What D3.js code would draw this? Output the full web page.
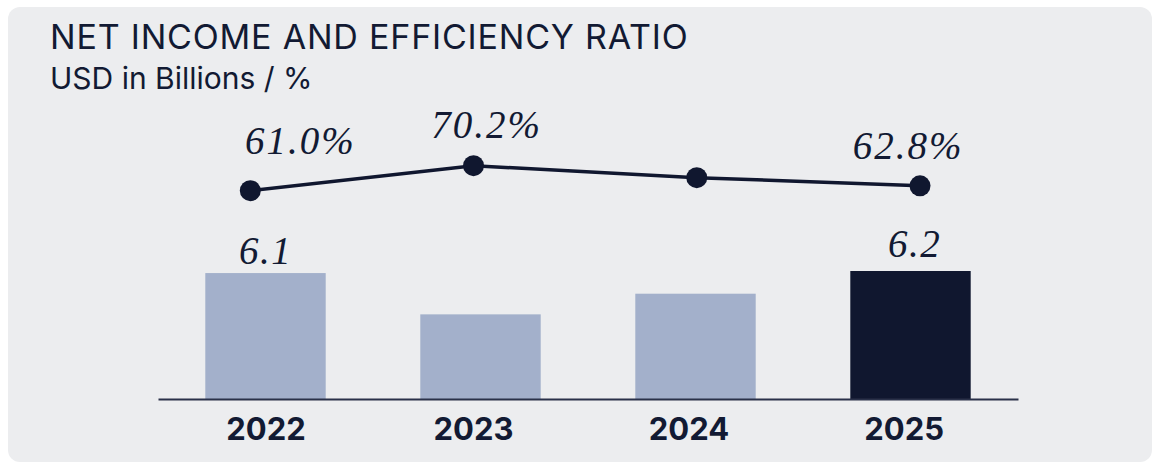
<!DOCTYPE html>
<html>
<head>
<meta charset="utf-8">
<script src="https://cdn.jsdelivr.net/npm/d3@7"></script>
<style>
  html, body { margin: 0; padding: 0; background: #ffffff; }
  svg { display: block; }
</style>
</head>
<body>
<svg id="chart" width="1153" height="463"></svg>
<script>
// ---- data ----
const years = ["2022", "2023", "2024", "2025"];
const netIncome = [6.1, 4.1, 5.1, 6.2];           // USD bn (bars)
const efficiencyRatio = [61.0, 70.2, 65.8, 62.8]; // % (line)
const incomeLabels = ["6.1", "", "", "6.2"];
const ratioLabels = ["61.0%", "70.2%", "", "62.8%"];
const titleText = "NET INCOME AND EFFICIENCY RATIO";
const subtitleText = "USD in Billions / %";

// ---- styles / layout ----
const W = 1153, H = 463;
const ink = "#121a33";
const barLight = "#a3b0cb";
const barDark = "#10172f";
const panelFill = "#ecedef";
const highlightYear = "2025";
const baseY = 399;
// label nudges — styling only
const ratioNudge = [[50, -37], [13, -28], [0, 0], [-12, -27]];
const incomeNudge = [[0, -9], [0, -9], [0, -9], [4, -14]];
const tickNudge = [0.5, -7, -6.5, -6.3];

const svg = d3.select("#chart");

svg.append("rect")
  .attr("x", 8).attr("y", 7)
  .attr("width", 1144).attr("height", 455)
  .attr("rx", 12).attr("ry", 12)
  .attr("fill", panelFill);

svg.append("text")
  .attr("x", 50).attr("y", 48.5)
  .attr("font-family", "Inter, 'Noto Sans', sans-serif")
  .attr("font-size", 34)
  .attr("letter-spacing", 0.8)
  .attr("fill", ink)
  .text(titleText);

svg.append("text")
  .attr("x", 50).attr("y", 88.5)
  .attr("font-family", "Inter, 'Noto Sans', sans-serif")
  .attr("font-size", 30)
  .attr("fill", ink)
  .text(subtitleText);

// ---- scales ----
const x = d3.scaleBand()
  .domain(years)
  .range([158, 1018])
  .paddingInner(0.44)
  .paddingOuter(0.22);

const y = d3.scaleLinear()
  .domain([0, 6.2])
  .range([baseY, 271]);

const xLine = d3.scalePoint()
  .domain(years)
  .range([250.3, 920]);

const yLine = d3.scaleLinear()
  .domain([61, 70.2])
  .range([190.7, 165.7]);

// ---- bars ----
const barData = years.map((yr, i) => ({ yr, v: netIncome[i], label: incomeLabels[i], nudge: incomeNudge[i] }));

svg.append("g").selectAll("rect")
  .data(barData)
  .join("rect")
  .attr("x", d => x(d.yr))
  .attr("y", d => y(d.v))
  .attr("width", x.bandwidth())
  .attr("height", d => y(0) - y(d.v))
  .attr("fill", d => d.yr === highlightYear ? barDark : barLight);

svg.append("g").selectAll("text")
  .data(barData.filter(d => d.label))
  .join("text")
  .attr("x", d => x(d.yr) + x.bandwidth() / 2 + d.nudge[0])
  .attr("y", d => y(d.v) + d.nudge[1])
  .attr("text-anchor", "middle")
  .attr("font-family", "'Liberation Serif', serif")
  .attr("font-style", "italic")
  .attr("font-size", 39)
  .attr("letter-spacing", 1.5)
  .attr("fill", ink)
  .text(d => d.label);

// ---- x axis ----
const xAxis = d3.axisBottom(x).tickSize(0).tickPadding(0);
const gx = svg.append("g")
  .attr("transform", `translate(0,${baseY})`)
  .call(xAxis);
gx.select(".domain")
  .attr("stroke", "#2a3149")
  .attr("stroke-width", 2);
gx.selectAll(".tick text")
  .attr("dy", null)
  .attr("y", 41)
  .attr("x", (d, i) => tickNudge[i])
  .attr("font-family", "Inter, 'Noto Sans', sans-serif")
  .attr("font-weight", 700)
  .attr("font-size", 31)
  .attr("fill", ink);

// ---- line ----
const lineData = years.map((yr, i) => ({ yr, v: efficiencyRatio[i], label: ratioLabels[i], nudge: ratioNudge[i] }));

svg.append("path")
  .datum(lineData)
  .attr("fill", "none")
  .attr("stroke", barDark)
  .attr("stroke-width", 3.5)
  .attr("d", d3.line().x(d => xLine(d.yr)).y(d => yLine(d.v)));

svg.append("g").selectAll("circle")
  .data(lineData)
  .join("circle")
  .attr("cx", d => xLine(d.yr))
  .attr("cy", d => yLine(d.v))
  .attr("r", 10.5)
  .attr("fill", barDark);

svg.append("g").selectAll("text")
  .data(lineData.filter(d => d.label))
  .join("text")
  .attr("x", d => xLine(d.yr) + d.nudge[0])
  .attr("y", d => yLine(d.v) + d.nudge[1])
  .attr("text-anchor", "middle")
  .attr("font-family", "'Liberation Serif', serif")
  .attr("font-style", "italic")
  .attr("font-size", 39)
  .attr("letter-spacing", 2)
  .attr("fill", ink)
  .text(d => d.label);
</script>
</body>
</html>
